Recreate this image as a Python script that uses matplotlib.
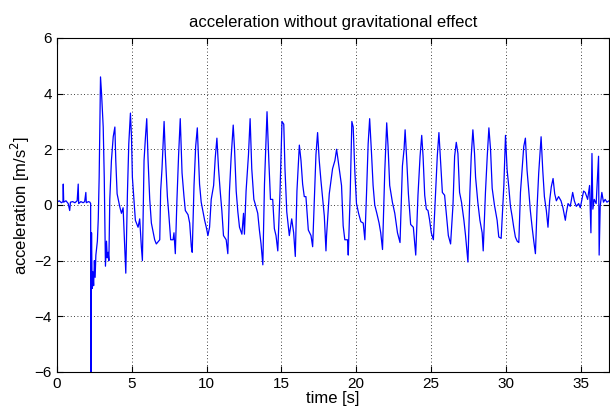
import matplotlib
matplotlib.use("Agg")
import matplotlib.pyplot as plt

# time stamps [s] and acceleration [m/s^2]
time_s = [
    0.0, 0.15, 0.3, 0.4, 0.42, 0.45, 0.6, 0.75, 0.85, 0.9, 1.05, 1.2, 1.35,
    1.42, 1.45, 1.6, 1.75, 1.85, 1.93, 1.96, 2.1, 2.2, 2.25, 2.27, 2.29,
    2.31, 2.35, 2.4, 2.45, 2.5, 2.55, 2.6, 2.64, 2.7, 2.76, 2.82, 2.87,
    2.91, 2.98, 3.09, 3.16, 3.2, 3.24, 3.31, 3.36, 3.42, 3.47, 3.53, 3.64,
    3.76, 3.87, 3.93, 4.02, 4.2, 4.31, 4.42, 4.53, 4.6, 4.71, 4.8, 4.91,
    4.98, 5.04, 5.16, 5.24, 5.42, 5.53, 5.64, 5.71, 5.82, 5.91, 6.0, 6.09,
    6.2, 6.31, 6.53, 6.64, 6.87, 6.93, 7.02, 7.16, 7.24, 7.38, 7.47, 7.6,
    7.76, 7.82, 7.91, 8.02, 8.13, 8.24, 8.36, 8.49, 8.58, 8.76, 8.87, 8.98,
    9.04, 9.16, 9.27, 9.38, 9.53, 9.64, 9.76, 9.87, 9.98, 10.09, 10.2,
    10.31, 10.47, 10.58, 10.69, 10.8, 10.91, 11.02, 11.13, 11.31, 11.42,
    11.53, 11.64, 11.78, 11.87, 11.98, 12.09, 12.2, 12.36, 12.47, 12.53,
    12.64, 12.8, 12.91, 13.02, 13.16, 13.27, 13.42, 13.53, 13.64, 13.76,
    13.87, 13.98, 14.04, 14.16, 14.27, 14.42, 14.53, 14.64, 14.76, 14.91,
    15.04, 15.16, 15.24, 15.36, 15.53, 15.69, 15.82, 15.93, 16.04, 16.2,
    16.31, 16.42, 16.53, 16.64, 16.8, 16.98, 17.09, 17.2, 17.31, 17.42,
    17.53, 17.64, 17.76, 17.87, 17.98, 18.02, 18.2, 18.42, 18.58, 18.69,
    18.87, 19.02, 19.13, 19.24, 19.42, 19.47, 19.6, 19.71, 19.8, 19.91,
    20.02, 20.16, 20.31, 20.47, 20.58, 20.69, 20.8, 20.9, 21.02, 21.13,
    21.24, 21.38, 21.53, 21.64, 21.76, 21.91, 22.04, 22.13, 22.24, 22.42,
    22.58, 22.76, 22.93, 23.09, 23.2, 23.27, 23.38, 23.49, 23.64, 23.82,
    23.98, 24.13, 24.27, 24.38, 24.47, 24.58, 24.69, 24.8, 24.91, 25.02,
    25.16, 25.31, 25.42, 25.53, 25.64, 25.76, 25.91, 26.02, 26.16, 26.31,
    26.47, 26.58, 26.69, 26.8, 26.91, 27.04, 27.2, 27.31, 27.47, 27.6,
    27.69, 27.8, 27.91, 27.98, 28.13, 28.27, 28.42, 28.49, 28.64, 28.76,
    28.87, 28.98, 29.09, 29.24, 29.42, 29.53, 29.69, 29.87, 29.98, 30.09,
    30.2, 30.31, 30.42, 30.53, 30.64, 30.76, 30.87, 30.98, 31.09, 31.2,
    31.31, 31.42, 31.53, 31.64, 31.76, 31.87, 31.98, 32.09, 32.2, 32.36,
    32.47, 32.58, 32.71, 32.82, 32.93, 33.04, 33.16, 33.27, 33.38, 33.53,
    33.69, 33.82, 33.98, 34.04, 34.16, 34.31, 34.47, 34.58, 34.71, 34.87,
    34.98, 35.09, 35.2, 35.31, 35.47, 35.6, 35.69, 35.76, 35.82, 35.91,
    36.04, 36.2, 36.24, 36.31, 36.42, 36.53, 36.64, 36.76, 36.9,
]
accel = [
    0.1, 0.15, 0.08, 0.12, 0.75, 0.1, 0.15, 0.05, -0.2, 0.1, 0.12, 0.08, 0.15,
    0.75, 0.05, 0.12, 0.08, 0.12, 0.45, 0.08, 0.12, 0.1, 0.05, -6.5, -2.2,
    -1.0, -3.0, -2.4, -2.9, -2.0, -2.6, -1.8, -1.6, -1.3, -0.5, 1.0, 3.0,
    4.6, 4.0, 2.8, 1.0, -0.65, -2.2, -1.3, -1.9, -1.7, -2.0, 0.2, 1.6,
    2.45, 2.8, 1.6, 0.4, -0.07, -0.3, -0.1, -1.5, -2.45, 0.43, 2.2, 3.3,
    2.45, 1.0, 0.05, -0.55, -0.8, -0.5, -1.5, -2.0, 1.6, 2.4, 3.1, 1.6,
    0.2, -0.65, -1.25, -1.4, -1.25, 0.5, 1.3, 3.0, 1.85, 0.3, -0.3, -1.25,
    -1.25, -1.0, -1.75, 0.2, 1.8, 3.1, 1.15, 0.3, -0.2, -0.35, -0.65, -1.5,
    -1.7, 0.7, 2.1, 2.77, 0.75, 0.1, -0.25, -0.55, -0.8, -1.1, -0.8,
    0.2, 0.7, 1.7, 2.4, 1.3, 0.5, -0.2, -1.1, -1.25, -1.75,
    0.5, 1.7, 2.87, 2.0, 0.5, -0.25, -0.8, -1.05, -0.3, -1.05,
    0.5, 1.8, 3.1, 1.3, 0.2, 0.0, -0.3, -0.9, -1.4, -2.15,
    0.75, 2.4, 3.35, 1.6, 0.2, 0.2, -0.85, -1.1, -1.65, 0.5,
    3.0, 2.9, 1.3, -0.25, -1.1, -0.5, -1.0, -1.85, 0.5, 2.15,
    1.6, 0.75, 0.3, 0.3, -0.9, -1.1, -1.5, 0.2, 1.8, 2.6,
    1.6, 0.9, 0.2, -0.4, -1.65, -1.1, 0.4, 1.3, 1.6, 2.0,
    1.3, 0.7, -0.75, -1.25, -1.25, -1.8, 0.4, 3.0, 2.8, 1.2,
    0.05, -0.3, -0.6, -0.65, -1.25, 0.4, 2.2, 3.1, 1.9, 0.7,
    0.0, -0.3, -0.65, -1.0, -1.6, 1.2, 2.95, 2.1, 0.7, 0.1,
    -0.3, -1.0, -1.35, 1.4, 2.0, 2.7, 1.6, 0.4, -0.7, -0.8,
    -1.8, 0.35, 1.75, 2.5, 1.75, 0.35, -0.15, -0.2, -0.55, -1.0,
    -1.25, 0.5, 1.75, 2.6, 1.55, 0.45, 0.35, -0.3, -1.1, -1.4,
    0.0, 1.75, 2.25, 1.85, 0.45, 0.1, -0.55, -1.1, -2.05, 0.45,
    1.75, 2.7, 1.85, 1.0, 0.1, -0.55, -1.0, -1.65, 0.45, 1.75,
    2.77, 2.0, 0.6, 0.0, -0.55, -1.15, -1.2, 0.7, 2.5, 1.25,
    0.65, -0.05, -0.4, -0.8, -1.15, -1.3, -1.35, 0.45, 1.3, 2.1,
    2.4, 1.25, 0.55, -0.2, -0.8, -1.3, -1.75, -0.1, 1.15, 2.45,
    1.25, 0.3, -0.2, -0.8, 0.15, 0.65, 0.95, 0.4, 0.15, 0.3,
    0.15, -0.1, -0.55, -0.3, 0.05, -0.05, 0.45, 0.15, -0.05, 0.05,
    -0.1, 0.2, 0.5, 0.45, 0.2, 0.7, -1.0, 1.85, -0.15, 0.2,
    0.05, 1.75, -1.8, -0.05, 0.45, 0.1, 0.2, 0.1, 0.15,
]

x_ticks = [0, 5, 10, 15, 20, 25, 30, 35]
y_ticks = [-6, -4, -2, 0, 2, 4, 6]

plt.rcParams["font.family"] = ["Liberation Sans", "DejaVu Sans"]

fig = plt.figure(figsize=(6.1, 4.16), dpi=100)
ax = fig.add_axes([0.0934, 0.1058, 0.905, 0.803])

ax.plot(time_s, accel, color="#0000FF", linewidth=0.9)

ax.set_xlim(0, 36.9)
ax.set_ylim(-6, 6)
ax.set_xticks(x_ticks)
ax.set_yticks(y_ticks)
ax.grid(True, color="black", linestyle=(0, (1, 3)), linewidth=0.6)
ax.tick_params(direction="in", length=4, labelsize=11, top=True, right=True)
for sp in ax.spines.values():
    sp.set_linewidth(0.8)

ax.set_title("acceleration without gravitational effect", fontsize=12, pad=8)
ax.set_xlabel("time [s]", fontsize=12, labelpad=0)
ax.set_ylabel("acceleration [m/s$^2$]", fontsize=12, labelpad=2)

fig.savefig("out.png", dpi=100)
